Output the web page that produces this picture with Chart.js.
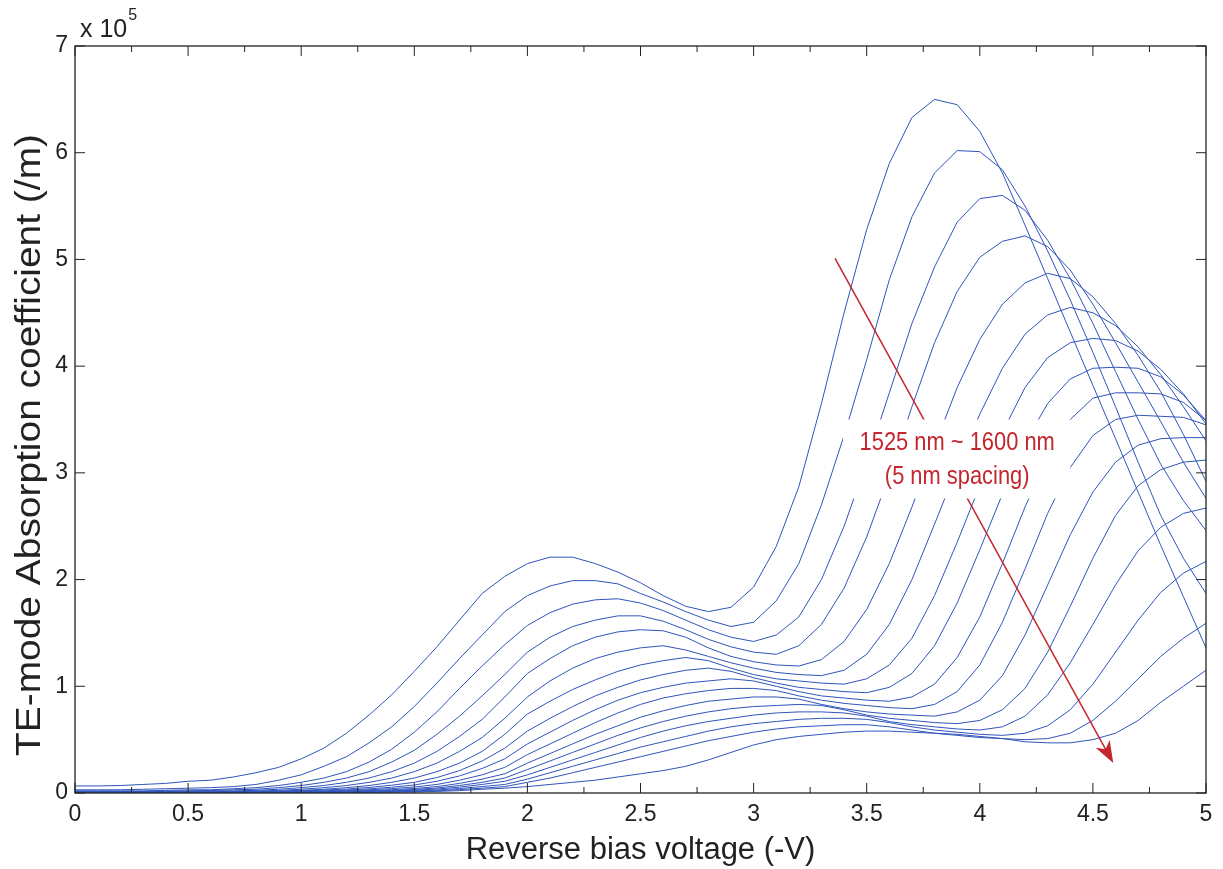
<!DOCTYPE html>
<html><head><meta charset="utf-8">
<script src="https://cdn.jsdelivr.net/npm/chart.js@4.4.1/dist/chart.umd.min.js"></script>
<style>html,body{margin:0;padding:0;background:#fff}#wrap{width:1223px;height:869px;position:relative}</style>
</head><body><div id="wrap"><canvas id="c" width="1223" height="869"></canvas></div>
<script>
const voltage = [0,0.1,0.2,0.3,0.4,0.5,0.6,0.7,0.8,0.9,1.0,1.1,1.2,1.3,1.4,1.5,1.6,1.7,1.8,1.9,2.0,2.1,2.2,2.3,2.4,2.5,2.6,2.7,2.8,2.9,3.0,3.1,3.2,3.3,3.4,3.5,3.6,3.7,3.8,3.9,4.0,4.1,4.2,4.3,4.4,4.5,4.6,4.7,4.8,4.9,5.0];
const wavelengths = [1525,1530,1535,1540,1545,1550,1555,1560,1565,1570,1575,1580,1585,1590,1595,1600];
// absorption in units of 1e5 /m
const a1525 = [0.066,0.066,0.07,0.08,0.09,0.11,0.12,0.15,0.19,0.24,0.32,0.42,0.56,0.73,0.92,1.14,1.37,1.62,1.87,2.03,2.15,2.21,2.21,2.15,2.07,1.97,1.85,1.75,1.70,1.74,1.93,2.31,2.87,3.65,4.50,5.28,5.90,6.33,6.50,6.45,6.20,5.81,5.32,4.82,4.32,3.82,3.32,2.82,2.32,1.84,1.36];
const a1530 = [0.03,0.03,0.03,0.035,0.04,0.045,0.05,0.06,0.08,0.12,0.17,0.25,0.34,0.47,0.62,0.81,1.03,1.26,1.48,1.70,1.85,1.94,1.99,1.99,1.96,1.87,1.79,1.70,1.62,1.56,1.60,1.80,2.15,2.70,3.35,4.06,4.81,5.40,5.81,6.02,6.01,5.84,5.50,5.08,4.62,4.13,3.62,3.10,2.60,2.20,1.87];
const a1535 = [0.02,0.02,0.02,0.02,0.025,0.03,0.03,0.04,0.05,0.07,0.10,0.14,0.20,0.29,0.41,0.57,0.76,0.98,1.19,1.39,1.57,1.69,1.77,1.81,1.82,1.78,1.71,1.62,1.53,1.46,1.42,1.48,1.65,2.00,2.50,3.10,3.75,4.40,4.93,5.35,5.57,5.60,5.46,5.18,4.82,4.40,3.95,3.50,3.08,2.74,2.46];
const a1540 = [0.015,0.015,0.015,0.015,0.02,0.02,0.025,0.03,0.035,0.05,0.07,0.10,0.14,0.20,0.29,0.40,0.55,0.72,0.91,1.11,1.32,1.46,1.56,1.62,1.66,1.66,1.61,1.53,1.44,1.37,1.32,1.30,1.38,1.58,1.92,2.40,2.98,3.62,4.22,4.70,5.02,5.17,5.22,5.12,4.90,4.58,4.22,3.85,3.48,3.10,2.76];
const a1545 = [0.01,0.01,0.01,0.01,0.015,0.015,0.02,0.02,0.025,0.035,0.05,0.07,0.10,0.14,0.20,0.28,0.39,0.53,0.69,0.90,1.12,1.26,1.38,1.46,1.51,1.53,1.52,1.46,1.36,1.28,1.23,1.20,1.19,1.25,1.42,1.72,2.15,2.68,3.25,3.80,4.25,4.58,4.78,4.87,4.82,4.65,4.40,4.10,3.76,3.36,2.92];
const a1550 = [0.008,0.008,0.008,0.008,0.01,0.01,0.012,0.015,0.018,0.025,0.035,0.05,0.07,0.10,0.14,0.20,0.28,0.39,0.52,0.70,0.90,1.05,1.17,1.26,1.32,1.36,1.38,1.34,1.28,1.22,1.17,1.13,1.11,1.10,1.15,1.30,1.58,2.00,2.52,3.05,3.55,3.98,4.30,4.48,4.55,4.50,4.38,4.18,3.92,3.62,3.30];
const a1555 = [0.006,0.006,0.006,0.006,0.007,0.008,0.009,0.011,0.013,0.018,0.025,0.035,0.05,0.07,0.10,0.14,0.20,0.28,0.39,0.55,0.74,0.86,0.97,1.06,1.14,1.20,1.24,1.27,1.24,1.17,1.11,1.07,1.05,1.03,1.02,1.07,1.20,1.45,1.85,2.35,2.88,3.38,3.80,4.08,4.22,4.26,4.24,4.14,3.97,3.74,3.46];
const a1560 = [0.005,0.005,0.005,0.005,0.006,0.006,0.007,0.008,0.01,0.014,0.02,0.027,0.037,0.052,0.073,0.10,0.145,0.21,0.30,0.42,0.58,0.70,0.81,0.91,0.99,1.06,1.11,1.15,1.17,1.14,1.08,1.03,0.99,0.97,0.95,0.94,0.99,1.12,1.38,1.78,2.28,2.80,3.28,3.65,3.88,3.98,3.99,3.98,3.90,3.73,3.49];
const a1565 = [0.004,0.004,0.004,0.004,0.005,0.005,0.006,0.007,0.008,0.011,0.015,0.02,0.028,0.039,0.054,0.075,0.11,0.16,0.23,0.32,0.46,0.57,0.68,0.78,0.87,0.94,0.99,1.03,1.05,1.07,1.05,1.00,0.95,0.91,0.89,0.87,0.86,0.90,1.02,1.27,1.65,2.15,2.68,3.15,3.50,3.70,3.75,3.75,3.74,3.66,3.49];
const a1570 = [0.003,0.003,0.003,0.003,0.004,0.004,0.005,0.005,0.006,0.008,0.012,0.016,0.022,0.03,0.041,0.056,0.08,0.12,0.17,0.24,0.36,0.46,0.56,0.66,0.75,0.83,0.89,0.93,0.96,0.98,0.98,0.96,0.91,0.87,0.84,0.82,0.80,0.79,0.83,0.95,1.20,1.60,2.10,2.62,3.05,3.35,3.50,3.54,3.53,3.52,3.45];
const a1575 = [0.002,0.002,0.002,0.002,0.003,0.003,0.004,0.004,0.005,0.006,0.009,0.012,0.017,0.023,0.031,0.042,0.06,0.09,0.13,0.18,0.28,0.37,0.46,0.55,0.63,0.71,0.77,0.82,0.86,0.88,0.90,0.90,0.88,0.83,0.79,0.76,0.74,0.73,0.72,0.76,0.87,1.10,1.48,1.95,2.42,2.82,3.10,3.26,3.32,3.33,3.33];
const a1580 = [0.002,0.002,0.002,0.002,0.002,0.003,0.003,0.003,0.004,0.005,0.007,0.009,0.013,0.018,0.024,0.033,0.047,0.07,0.10,0.14,0.22,0.30,0.38,0.46,0.54,0.61,0.67,0.72,0.76,0.79,0.81,0.82,0.83,0.82,0.78,0.73,0.70,0.68,0.66,0.65,0.68,0.78,0.98,1.32,1.75,2.20,2.60,2.88,3.03,3.10,3.12];
const a1585 = [0.001,0.001,0.001,0.001,0.002,0.002,0.002,0.003,0.003,0.004,0.005,0.007,0.01,0.014,0.019,0.026,0.037,0.055,0.08,0.11,0.17,0.24,0.31,0.38,0.45,0.52,0.58,0.63,0.67,0.70,0.73,0.75,0.76,0.76,0.75,0.72,0.67,0.64,0.62,0.60,0.59,0.62,0.72,0.92,1.22,1.58,1.95,2.27,2.49,2.62,2.67];
const a1590 = [0.001,0.001,0.001,0.001,0.001,0.002,0.002,0.002,0.003,0.003,0.004,0.005,0.007,0.01,0.014,0.02,0.028,0.042,0.06,0.08,0.13,0.19,0.25,0.31,0.37,0.43,0.48,0.53,0.58,0.62,0.65,0.67,0.69,0.70,0.70,0.69,0.66,0.62,0.59,0.57,0.55,0.54,0.56,0.63,0.78,1.02,1.32,1.62,1.88,2.06,2.17];
const a1595 = [0.001,0.001,0.001,0.001,0.001,0.001,0.001,0.002,0.002,0.002,0.003,0.004,0.005,0.007,0.01,0.015,0.021,0.032,0.045,0.06,0.10,0.14,0.19,0.24,0.29,0.34,0.39,0.44,0.49,0.53,0.57,0.60,0.62,0.63,0.64,0.64,0.62,0.59,0.56,0.54,0.52,0.51,0.50,0.51,0.56,0.68,0.86,1.07,1.28,1.45,1.59];
const a1600 = [0,0,0,0,0.001,0.001,0.001,0.001,0.001,0.002,0.002,0.003,0.004,0.005,0.007,0.01,0.015,0.022,0.035,0.045,0.06,0.08,0.10,0.12,0.15,0.18,0.21,0.25,0.31,0.38,0.45,0.50,0.53,0.55,0.57,0.58,0.58,0.57,0.56,0.55,0.53,0.51,0.48,0.47,0.47,0.50,0.56,0.68,0.85,1.00,1.15];
const series = [a1525,a1530,a1535,a1540,a1545,a1550,a1555,a1560,a1565,a1570,a1575,a1580,a1585,a1590,a1595,a1600];
const xTickLabels = ['0','0.5','1','1.5','2','2.5','3','3.5','4','4.5','5'];
const yTickLabels = ['0','1','2','3','4','5','6','7'];
const xTitle = 'Reverse bias voltage (-V)';
const yTitle = 'TE-mode Absorption coefficient (/m)';
const annotationLines = ['1525 nm ~ 1600 nm','(5 nm spacing)'];
const arrowFrom = [3.36, 5.01];
const arrowTo = [4.59, 0.28];

const BLUE = '#2f54bb';
const datasets = series.map((s,i)=>({
  label: wavelengths[i]+' nm',
  data: voltage.map((v,j)=>({x:v,y:s[j]})),
  borderColor: BLUE, borderWidth: 1, pointRadius: 0, fill:false, tension:0
}));

const FONT = "'Liberation Sans', Arial, sans-serif";
const INK = '#222';

const decor = {
  id:'decor',
  afterDatasetsDraw(chart){
    const {ctx, scales:{x,y}} = chart;
    ctx.save();
    const RED='#c4262e';
    const x1=x.getPixelForValue(arrowFrom[0]), y1=y.getPixelForValue(arrowFrom[1]);
    const x2=x.getPixelForValue(arrowTo[0]), y2=y.getPixelForValue(arrowTo[1]);
    ctx.strokeStyle=RED; ctx.fillStyle=RED; ctx.lineWidth=1.5;
    const ang=Math.atan2(y2-y1,x2-x1), c=Math.cos(ang), s=Math.sin(ang);
    const hl=22, hw=8;
    const bx=x2-hl*c, by=y2-hl*s;
    ctx.beginPath(); ctx.moveTo(x1,y1); ctx.lineTo(x2-10*c,y2-10*s); ctx.stroke();
    ctx.beginPath();
    ctx.moveTo(x2,y2);
    ctx.lineTo(bx - hw*s, by + hw*c);
    ctx.lineTo(x2-0.72*hl*c, y2-0.72*hl*s);
    ctx.lineTo(bx + hw*s, by - hw*c);
    ctx.closePath(); ctx.fill();
    const bl=x.getPixelForValue(3.395), br=x.getPixelForValue(4.40);
    const bt=y.getPixelForValue(3.50), bb=y.getPixelForValue(2.76);
    ctx.fillStyle='#fff';
    ctx.fillRect(bl, bt, br-bl, bb-bt);
    ctx.fillStyle=RED;
    ctx.font = "25px "+FONT;
    ctx.textAlign='center'; ctx.textBaseline='middle';
    const cx = x.getPixelForValue(3.90);
    const rows=[y.getPixelForValue(3.28), y.getPixelForValue(2.96)];
    annotationLines.forEach((t,i)=>{
      ctx.save(); ctx.translate(cx, rows[i]); ctx.scale(0.875,1);
      ctx.fillText(t,0,0); ctx.restore();
    });
    ctx.restore();
  },
  afterDraw(chart){
    const {ctx, chartArea:a, scales:{x,y}} = chart;
    ctx.save();
    ctx.strokeStyle=INK; ctx.lineWidth=1.3;
    ctx.strokeRect(a.left, a.top, a.right-a.left, a.bottom-a.top);
    ctx.lineWidth=1;
    ctx.beginPath();
    for(let i=0;i<=20;i++){
      const px=x.getPixelForValue(i*0.25);
      const L = (i%2===0)?10:6;
      ctx.moveTo(px,a.bottom); ctx.lineTo(px,a.bottom-L);
      ctx.moveTo(px,a.top); ctx.lineTo(px,a.top+L);
    }
    for(let i=0;i<yTickLabels.length;i++){
      const py=y.getPixelForValue(+yTickLabels[i]);
      ctx.moveTo(a.left,py); ctx.lineTo(a.left+10,py);
      ctx.moveTo(a.right,py); ctx.lineTo(a.right-10,py);
    }
    ctx.stroke();
    ctx.fillStyle=INK;
    ctx.textAlign='left'; ctx.textBaseline='alphabetic';
    ctx.font='25px '+FONT;
    ctx.fillText('x 10', a.left+5, a.top-9);
    const w = ctx.measureText('x 10').width;
    ctx.font='16px '+FONT;
    ctx.fillText('5', a.left+5+w+1, a.top-26);
    ctx.textAlign='center'; ctx.textBaseline='middle';
    ctx.font='31px '+FONT;
    ctx.fillText(xTitle, (a.left+a.right)/2, 850);
    ctx.save();
    ctx.font='35px '+FONT;
    ctx.translate(30, 445); ctx.rotate(-Math.PI/2);
    const tw = ctx.measureText(yTitle).width;
    ctx.scale(622/tw, 1);
    ctx.fillText(yTitle, 0, 0);
    ctx.restore();
    ctx.restore();
  }
};

new Chart(document.getElementById('c'), {
  type:'line',
  data:{datasets},
  options:{
    responsive:false, animation:false,
    layout:{padding:{left:0,right:17,top:46,bottom:0}},
    plugins:{legend:{display:false}, tooltip:{enabled:false}},
    scales:{
      x:{type:'linear', min:0, max:5,
        grid:{display:false, drawTicks:false}, border:{display:false},
        ticks:{stepSize:0.5, padding:8, color:INK, font:{family:FONT,size:23},
          callback:(v)=>xTickLabels[Math.round(v/0.5)]},
        afterFit(s){ s.height = 869-793; }
      },
      y:{type:'linear', min:0, max:7,
        grid:{display:false, drawTicks:false}, border:{display:false},
        ticks:{stepSize:1, padding:7, color:INK, font:{family:FONT,size:23},
          callback:(v)=>yTickLabels[Math.round(v)]},
        afterFit(s){ s.width = 75; }
      }
    }
  },
  plugins:[decor]
});
</script></body></html>
